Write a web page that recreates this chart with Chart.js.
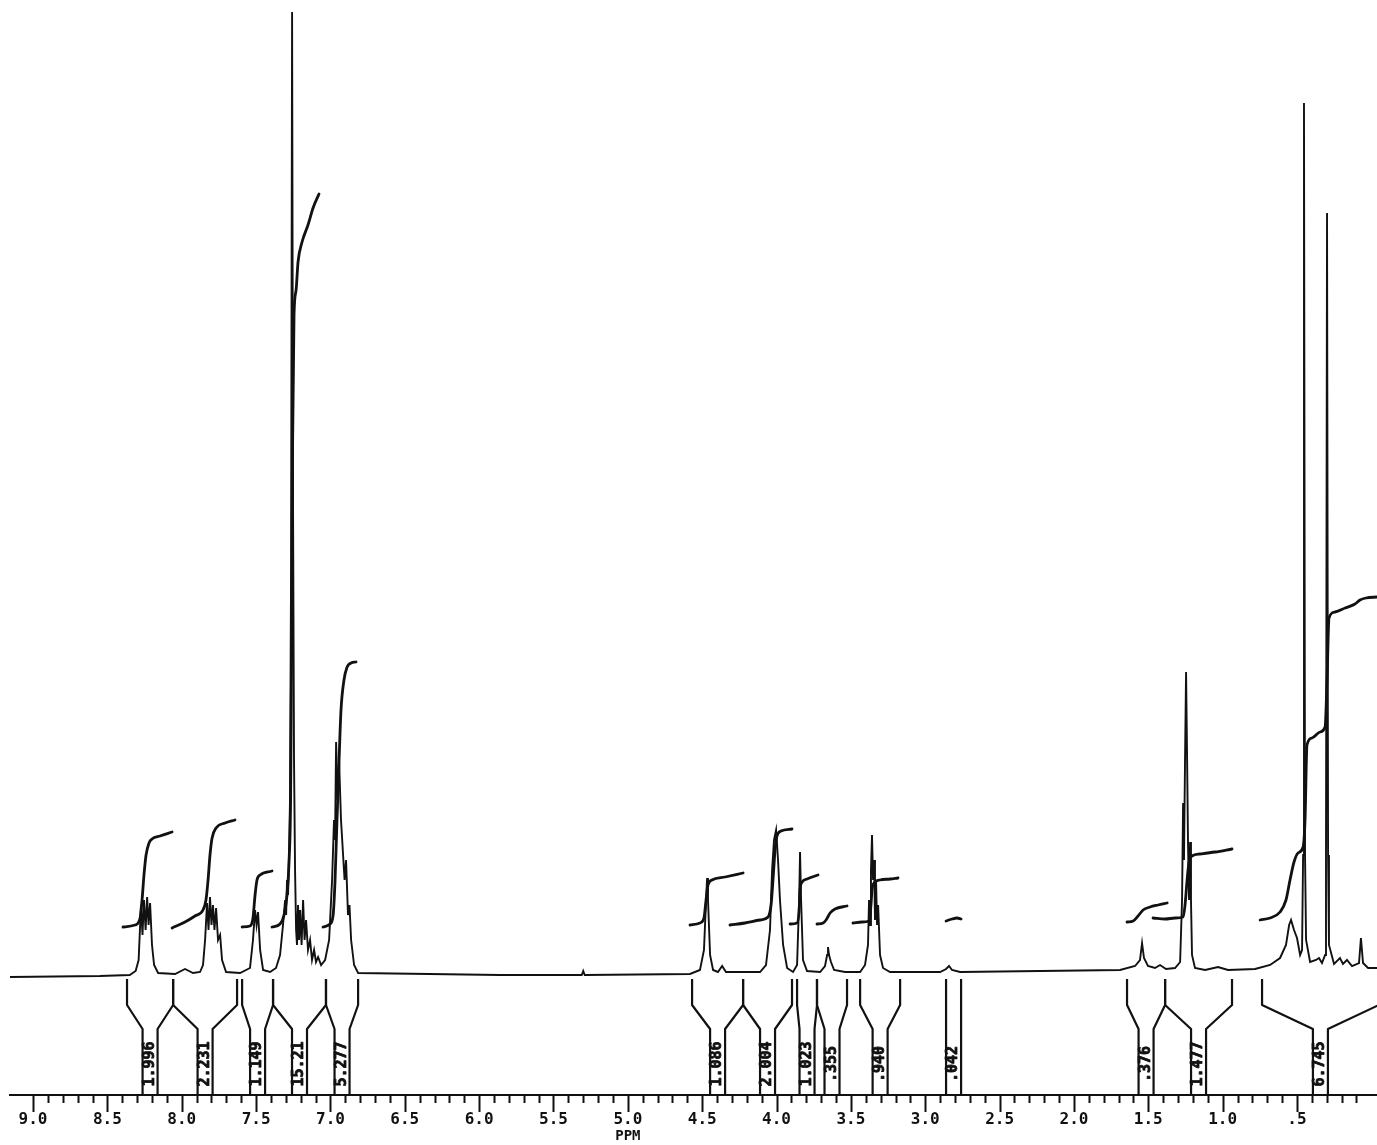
<!DOCTYPE html>
<html>
<head>
<meta charset="utf-8">
<title>1H NMR spectrum</title>
<script src="https://cdn.jsdelivr.net/npm/chart.js@4.4.1/dist/chart.umd.min.js"></script>
<style>
  html, body { margin: 0; padding: 0; background: #fff; overflow: hidden; }
  #wrap { width: 1377px; height: 1145px; position: relative; }
  canvas { display: block; }
</style>
</head>
<body>
<div id="wrap"><canvas id="nmr"></canvas></div>
<script>
// Chemical shift window (ppm), left edge to right edge
const ppmHigh = 9.155;
const ppmLow = -0.038;

// Spectrum trace: [chemical shift (ppm), intensity]
const spectrum = [
  [9.155,-0.2],[8.55,-0.1],[8.35,0],[8.31,0.4],[8.29,1.5],[8.274,7.0],[8.264,4.0],[8.254,7.5],[8.243,4.5],
  [8.233,7.8],[8.223,5.0],[8.213,7.2],[8.200,3.0],[8.186,1.0],[8.159,0.2],[8.045,0.1],[7.978,0.6],[7.924,0.2],
  [7.877,0.3],[7.857,1.0],[7.843,3.5],[7.830,7.2],[7.820,4.5],[7.810,7.8],[7.800,5.0],[7.790,7.0],[7.780,4.5],
  [7.769,6.7],[7.756,3.5],[7.742,4.0],[7.729,1.5],[7.702,0.3],[7.608,0.2],[7.541,0.7],[7.521,3.5],[7.507,6.5],
  [7.497,5.0],[7.487,6.3],[7.473,2.5],[7.453,0.5],[7.406,0.3],[7.366,0.7],[7.339,2.0],[7.319,5.0],[7.305,7.5],
  [7.298,6.0],[7.292,9.5],[7.285,8.0],[7.278,12.5],[7.272,17.5],[7.265,40.0],[7.258,96.3],[7.251,45.0],
  [7.245,21.5],[7.238,10.5],[7.231,4.5],[7.225,3.0],[7.218,7.0],[7.211,3.5],[7.204,6.5],[7.194,3.0],[7.184,7.5],
  [7.174,3.5],[7.164,5.5],[7.151,2.5],[7.137,3.5],[7.124,1.5],[7.110,2.5],[7.097,1.3],[7.083,1.8],[7.063,1.0],
  [7.036,1.5],[7.009,3.5],[6.989,9.5],[6.976,15.5],[6.969,13.5],[6.962,23.3],[6.952,17.5],[6.942,21.5],
  [6.929,15.5],[6.915,12.0],[6.905,9.5],[6.895,11.5],[6.882,6.0],[6.872,7.0],[6.861,3.5],[6.841,1.0],[6.814,0.2],
  [5.86,0.0],[5.31,0.0],[5.30,0.4],[5.29,0.0],[4.582,0.1],[4.515,0.5],[4.488,2.5],[4.474,7.5],[4.467,9.7],
  [4.461,7.5],[4.447,2.0],[4.427,0.5],[4.394,0.3],[4.366,0.9],[4.340,0.3],[4.111,0.3],[4.071,1.0],[4.044,4.5],
  [4.030,10.5],[4.017,13.5],[4.003,14.5],[3.990,11.5],[3.977,7.5],[3.956,3.0],[3.929,0.7],[3.889,0.3],
  [3.862,1.0],[3.848,7.5],[3.842,12.3],[3.835,7.5],[3.822,1.5],[3.795,0.4],[3.707,0.3],[3.674,0.9],[3.660,2.0],
  [3.654,2.8],[3.647,2.0],[3.634,1.3],[3.613,0.5],[3.539,0.3],[3.438,0.3],[3.405,1.0],[3.385,3.0],[3.378,7.5],
  [3.371,5.0],[3.365,10.5],[3.358,14.0],[3.351,9.5],[3.344,11.5],[3.338,5.5],[3.331,9.5],[3.324,5.0],
  [3.317,7.0],[3.304,2.0],[3.284,0.7],[3.237,0.3],[2.900,0.3],[2.860,0.6],[2.840,0.9],[2.820,0.5],[2.766,0.3],
  [1.690,0.5],[1.589,0.9],[1.556,1.5],[1.542,3.2],[1.529,1.7],[1.502,0.9],[1.455,0.7],[1.421,1.0],[1.381,0.6],
  [1.320,0.7],[1.286,1.3],[1.273,7.5],[1.266,17.2],[1.260,11.5],[1.253,21.5],[1.246,30.3],[1.239,21.5],
  [1.233,13.3],[1.226,7.5],[1.219,13.3],[1.213,7.5],[1.206,2.0],[1.186,0.7],[1.118,0.5],[1.031,0.8],[0.964,0.5],
  [0.782,0.6],[0.681,1.0],[0.614,1.7],[0.574,3.0],[0.553,5.0],[0.540,5.5],[0.520,4.5],[0.500,3.7],[0.479,2.0],
  [0.466,2.5],[0.459,12.0],[0.453,87.2],[0.446,12.0],[0.439,3.5],[0.412,1.3],[0.372,1.5],[0.352,1.7],
  [0.332,1.2],[0.311,2.0],[0.305,12.0],[0.298,76.2],[0.291,12.0],[0.285,3.0],[0.251,1.1],[0.211,1.7],
  [0.191,1.1],[0.164,1.5],[0.130,0.9],[0.083,1.2],[0.070,3.7],[0.056,1.2],[0.022,0.7],[-0.038,0.7]
];

// Running integral traces, one per integrated region: [ppm, level]
const integralTraces = [
  [[8.395,4.8],[8.314,5.0],[8.280,5.7],[8.267,7.5],[8.254,10.0],[8.240,12.0],[8.220,13.2],[8.200,13.6],[8.146,13.9],[8.065,14.3]],
  [[8.065,4.7],[7.978,5.3],[7.911,5.9],[7.857,6.5],[7.837,7.5],[7.823,9.5],[7.810,12.0],[7.796,13.7],[7.769,14.7],[7.709,15.2],[7.642,15.5]],
  [[7.594,4.8],[7.541,4.9],[7.521,5.7],[7.507,8.0],[7.494,9.5],[7.473,10.0],[7.393,10.4]],
  [[7.393,4.8],[7.339,5.1],[7.312,6.0],[7.292,8.0],[7.278,11.5],[7.268,17.5],[7.261,32.5],[7.255,52.5],[7.245,66.0],[7.231,68.5],[7.218,71.3],[7.191,73.3],[7.151,75.0],[7.117,76.7],[7.077,78.1]],
  [[7.050,4.8],[7.003,5.1],[6.982,6.0],[6.969,9.5],[6.956,15.5],[6.942,21.5],[6.929,26.5],[6.909,29.5],[6.888,30.8],[6.861,31.2],[6.828,31.3]],
  [[4.582,5.0],[4.515,5.2],[4.488,5.7],[4.474,7.5],[4.461,9.0],[4.434,9.5],[4.346,9.8],[4.225,10.2]],
  [[4.313,5.0],[4.212,5.2],[4.111,5.5],[4.057,5.8],[4.037,7.0],[4.024,9.5],[4.010,12.5],[3.997,13.9],[3.970,14.4],[3.896,14.6]],
  [[3.909,5.1],[3.862,5.2],[3.848,6.5],[3.842,8.5],[3.828,9.3],[3.795,9.6],[3.721,10.0]],
  [[3.728,5.1],[3.687,5.2],[3.667,5.5],[3.640,6.2],[3.607,6.6],[3.526,6.9]],
  [[3.486,5.2],[3.425,5.3],[3.378,5.4],[3.365,7.0],[3.358,8.5],[3.344,9.2],[3.304,9.5],[3.237,9.6],[3.183,9.7]],
  [[2.860,5.4],[2.820,5.6],[2.786,5.7],[2.759,5.6]],
  [[1.643,5.3],[1.602,5.4],[1.569,5.9],[1.535,6.5],[1.488,6.8],[1.434,7.0],[1.373,7.2]],
  [[1.468,5.7],[1.387,5.6],[1.320,5.7],[1.266,5.8],[1.253,7.0],[1.239,9.5],[1.226,11.3],[1.206,11.9],[1.152,12.1],[1.051,12.3],[0.937,12.6]],
  [[0.748,5.5],[0.681,5.7],[0.614,6.3],[0.574,7.5],[0.547,9.5],[0.520,11.3],[0.493,12.2],[0.459,12.8],[0.446,15.5],[0.433,23.0],[0.399,23.7],[0.345,24.3],[0.311,24.8],[0.298,29.5],[0.285,35.7],[0.244,36.3],[0.177,36.7],[0.110,37.1],[0.076,37.5],[0.036,37.7],[-0.038,37.8]]
];

// Integration regions (ppm) and the printed integral values
const regionStart = [8.368, 8.058, 7.594, 7.386, 7.030, 4.568, 4.225, 3.862, 3.728, 3.438, 2.860, 1.643, 1.387, 0.735];
const regionEnd   = [8.058, 7.628, 7.386, 7.030, 6.814, 4.225, 3.896, 3.728, 3.526, 3.169, 2.759, 1.387, 0.937, -0.05];
const regionValues = ['1.996', '2.231', '1.149', '15.21', '5.277', '1.086', '2.004', '1.023', '.355', '.940', '.042', '.376', '1.477', '6.745'];

// Scale labelling
const majorStep = 0.5;
const minorStep = 0.1;
const axisTitle = 'PPM';
const titleAt = 5.0;

const INK = '#111';
const MONO = '"DejaVu Sans Mono", "Liberation Mono", monospace';

const isMultiple = (v, step) => Math.abs(v / step - Math.round(v / step)) < 1e-6;
const shiftLabel = v => {
  const s = v.toFixed(1);
  return v < 1 ? s.replace(/^0/, '') : s;
};

// Integration brackets with their vertically printed values
const integralBrackets = {
  id: 'integralBrackets',
  afterDatasetsDraw(chart) {
    const { ctx, chartArea } = chart;
    const xs = chart.scales.x, ys = chart.scales.y;
    const yTop = ys.getPixelForValue(-0.4);
    const yBend = ys.getPixelForValue(-3.0);
    const yNeck = ys.getPixelForValue(-5.4);
    const yFoot = chartArea.bottom;
    const half = 7.5;
    ctx.save();
    ctx.strokeStyle = INK;
    ctx.lineWidth = 2.2;
    ctx.lineJoin = 'round';
    regionStart.forEach((from, i) => {
      const xa = xs.getPixelForValue(from);
      const xb = xs.getPixelForValue(regionEnd[i]);
      const xc = (xa + xb) / 2;
      const narrow = (xb - xa) <= 2 * half + 1;
      const la = narrow ? xa : xc - half;
      const rb = narrow ? xb : xc + half;
      ctx.beginPath();
      ctx.moveTo(xa, yTop); ctx.lineTo(xa, yBend); ctx.lineTo(la, yNeck); ctx.lineTo(la, yFoot);
      ctx.moveTo(xb, yTop); ctx.lineTo(xb, yBend); ctx.lineTo(rb, yNeck); ctx.lineTo(rb, yFoot);
      ctx.stroke();
      ctx.save();
      ctx.translate((la + rb) / 2, (yNeck + yFoot) / 2 + 2);
      ctx.rotate(-Math.PI / 2);
      ctx.fillStyle = INK;
      ctx.strokeStyle = INK;
      ctx.lineWidth = 0.8;
      ctx.font = 'bold 15px ' + MONO;
      ctx.textAlign = 'center';
      ctx.textBaseline = 'middle';
      ctx.fillText(regionValues[i], 0, 0);
      ctx.strokeText(regionValues[i], 0, 0);
      ctx.restore();
    });
    ctx.restore();
  }
};

// Tick marks hanging under the ppm axis, plus the axis title
const ppmTicks = {
  id: 'ppmTicks',
  afterDraw(chart) {
    const { ctx, chartArea } = chart;
    const xs = chart.scales.x;
    const y0 = chartArea.bottom;
    ctx.save();
    ctx.strokeStyle = INK;
    ctx.lineWidth = 2;
    ctx.beginPath();
    xs.ticks.forEach((t, i) => {
      if (!isMultiple(t.value, minorStep)) return;
      const x = Math.round(xs.getPixelForTick(i)) + 0.5;
      const len = isMultiple(t.value, majorStep) ? 17 : 8;
      ctx.moveTo(x, y0);
      ctx.lineTo(x, y0 + len);
    });
    ctx.stroke();
    ctx.fillStyle = INK;
    ctx.font = 'bold 14px ' + MONO;
    ctx.textAlign = 'center';
    ctx.textBaseline = 'middle';
    ctx.fillText(axisTitle, xs.getPixelForValue(titleAt), 1136);
    ctx.restore();
  }
};

const toPoints = arr => arr.map(([x, y]) => ({ x, y }));

const datasets = [
  {
    label: 'spectrum',
    data: toPoints(spectrum),
    borderColor: INK,
    borderWidth: 1.9,
    pointRadius: 0,
    tension: 0
  },
  ...integralTraces.map((tr, i) => ({
    label: 'integral ' + (i + 1),
    data: toPoints(tr),
    borderColor: INK,
    borderWidth: 2.8,
    pointRadius: 0,
    cubicInterpolationMode: 'monotone',
    borderCapStyle: 'round',
    borderJoinStyle: 'round'
  }))
];

new Chart(document.getElementById('nmr'), {
  type: 'line',
  data: { datasets },
  options: {
    responsive: true,
    maintainAspectRatio: false,
    animation: false,
    devicePixelRatio: 1,
    layout: { padding: { left: 10, right: 0, top: 0, bottom: 0 } },
    plugins: { legend: { display: false }, tooltip: { enabled: false } },
    scales: {
      x: {
        type: 'linear',
        reverse: true,
        min: ppmLow,
        max: ppmHigh,
        afterFit(scale) {
          scale.height = 50;
          scale.paddingLeft = 0;
          scale.paddingRight = 0;
        },
        border: { display: true, color: INK, width: 2 },
        grid: { display: false, drawTicks: false, drawOnChartArea: false },
        ticks: {
          stepSize: minorStep,
          maxTicksLimit: 200,
          autoSkip: false,
          maxRotation: 0,
          minRotation: 0,
          padding: 15,
          color: INK,
          font: { family: MONO, size: 16, weight: 'bold' },
          callback(v) {
            if (!isMultiple(v, majorStep) || v < 0.25) return '';
            return shiftLabel(v);
          }
        }
      },
      y: {
        type: 'linear',
        display: false,
        min: -12.0,
        max: 97.5
      }
    }
  },
  plugins: [integralBrackets, ppmTicks]
});
</script>
</body>
</html>
